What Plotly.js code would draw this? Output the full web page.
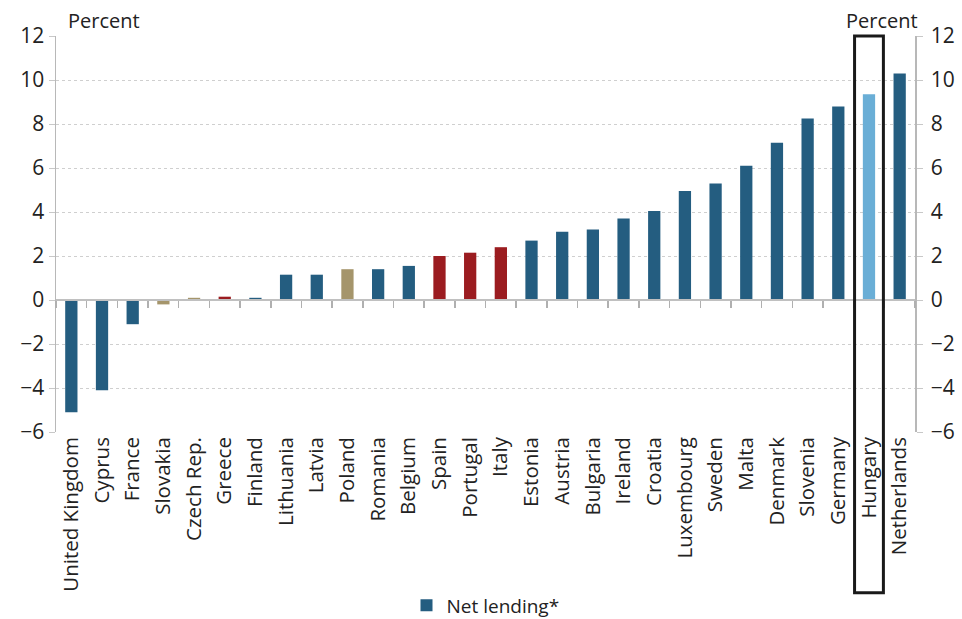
<!DOCTYPE html>
<html>
<head>
<meta charset="utf-8">
<script src="https://cdn.plot.ly/plotly-3.0.1.min.js"></script>
<style>html,body{margin:0;padding:0;background:#fff;}#chart{width:962px;height:619px;}</style>
</head>
<body>
<div id="chart"></div>
<script>
const countries = ["United Kingdom","Cyprus","France","Slovakia","Czech Rep.","Greece","Finland","Lithuania","Latvia","Poland","Romania","Belgium","Spain","Portugal","Italy","Estonia","Austria","Bulgaria","Ireland","Croatia","Luxembourg","Sweden","Malta","Denmark","Slovenia","Germany","Hungary","Netherlands"];
const netLending = [-5.1,-4.1,-1.1,-0.2,0.1,0.15,0.1,1.15,1.15,1.4,1.4,1.55,2.0,2.15,2.4,2.7,3.1,3.2,3.7,4.05,4.95,5.3,6.1,7.15,8.25,8.8,9.35,10.3];
const group = ["b","b","b","t","t","r","b","b","b","t","b","b","r","r","r","b","b","b","b","b","b","b","b","b","b","b","h","b"];
const yTicks = [-6,-4,-2,0,2,4,6,8,10,12];
const highlighted = "Hungary";

const palette = {b:"#245d80", t:"#a5956b", r:"#9b1c20", h:"#6aaed6"};
const colors = group.map(g => palette[g]);
const FONT = "Open Sans, Liberation Sans, sans-serif";
const hi = countries.indexOf(highlighted);

const traces = [
  {type:"bar", x:countries, y:netLending, name:"Net lending*",
   marker:{color:colors, line:{width:0}}, hoverinfo:"x+y"},
  {type:"bar", x:countries, y:countries.map(()=>null), yaxis:"y2", showlegend:false, hoverinfo:"skip"},
  {type:"bar", x:countries, y:countries.map(()=>null), xaxis:"x2", showlegend:false, hoverinfo:"skip"}
];

const layout = {
  width:962, height:619,
  margin:{l:56, r:47, t:36, b:187, autoexpand:false},
  paper_bgcolor:"#fff", plot_bgcolor:"#fff",
  font:{family:FONT, size:20, color:"#222"},
  bargap:0.6,
  showlegend:true,
  legend:{orientation:"h", x:0.5, xanchor:"center", y:-0.39, yanchor:"top", font:{size:19}},
  xaxis:{type:"category", categoryorder:"array", categoryarray:countries, range:[-0.5, countries.length-0.5],
         tickangle:-90, ticks:"", showline:false, showgrid:false, zeroline:false, automargin:false,
         tickfont:{size:20.5, color:"#222"}},
  xaxis2:{type:"category", overlaying:"x", anchor:"free", position:1/3, categoryorder:"array", categoryarray:countries,
          range:[-0.5, countries.length-0.5], showticklabels:false, ticks:"outside", tickson:"boundaries",
          ticklen:7, tickcolor:"#b0b0b0", tickwidth:1.5, showline:true, linecolor:"#c0c0c0", linewidth:2, showgrid:false, zeroline:false},
  yaxis:{range:[-6,12], tickvals:yTicks, ticks:"outside", ticklen:6, tickcolor:"#c8c8c8", automargin:false,
         showline:true, linecolor:"#b8b8b8", linewidth:1.5,
         showgrid:true, gridcolor:"#cfcfcf", griddash:"dot", gridwidth:1, zeroline:false,
         tickfont:{size:21, color:"#222"}},
  yaxis2:{overlaying:"y", side:"right", range:[-6,12], tickvals:yTicks, ticks:"outside", ticklen:6, tickcolor:"#c8c8c8",
          showline:true, linecolor:"#b8b8b8", linewidth:1.5, showgrid:false, zeroline:false, automargin:false,
          ticklabelstandoff:4, tickfont:{size:21, color:"#222"}},
  annotations:[
    {text:"Percent", xref:"paper", yref:"paper", x:0.012, y:1.0, yanchor:"bottom", xanchor:"left", showarrow:false, font:{size:20}, yshift:0},
    {text:"Percent", xref:"paper", yref:"paper", x:0.962, y:1.0, yanchor:"bottom", xanchor:"center", showarrow:false, font:{size:20}, yshift:0}
  ],
  shapes:[
    {type:"rect", xref:"x", yref:"paper", x0:hi-0.47, x1:hi+0.47, y0:-0.406, y1:1.0,
     line:{color:"#1a1a1a", width:3}, fillcolor:"rgba(0,0,0,0)"}
  ]
};

Plotly.newPlot("chart", traces, layout, {staticPlot:true, displayModeBar:false});
</script>
</body>
</html>
